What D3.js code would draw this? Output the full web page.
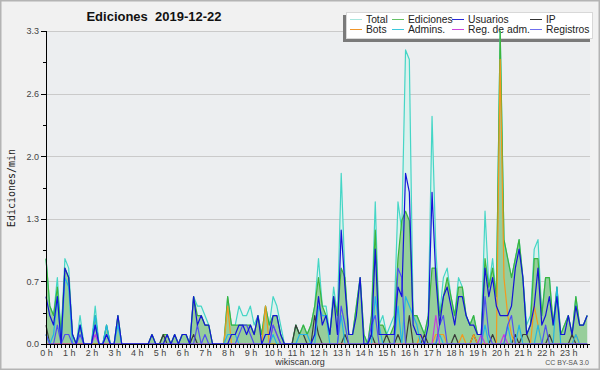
<!DOCTYPE html>
<html lang="es">

<head>
    <meta charset="UTF-8">
    <title>Ediciones 2019-12-22</title>
    <script src="https://cdnjs.cloudflare.com/ajax/libs/d3/7.8.5/d3.min.js"></script>
    <style>
        body {
            margin: 0;
            background: #f0f0f0;
        }

        svg text {
            font-family: "Liberation Sans", Arial, sans-serif;
        }

        .axis path,
        .axis line {
            stroke: #000;
            shape-rendering: crispEdges;
        }

        .axis text {
            font-size: 9px;
            fill: #444;
        }
    </style>
</head>

<body>
    <div id="chart"></div>

    <script>
        // 10 min bins, 144 per day, values in ediciones/min
        const totalVals = [
            .9, .4, .3, .7, .1, .9, .8, .1, 0, .3, 0, 0,
            0, .4, 0, 0, .2, 0, 0, .3, 0, 0, 0, 0,
            0, 0, 0, 0, .1, 0, 0, .1, .1, 0, .1, 0,
            .1, .1, 0, .5, .4, .4, .3, .2, 0, 0, 0, 0,
            .5, .2, .2, .4, .3, .3, .4, .2, .3, .1, .4, .2,
            .5, .4, .2, 0, 0, 0, .2, .1, .2, .1, .2, .4,
            .9, .4, .4, .1, .6, .3, 1.8, .7, .1, .1, .4, .7,
            .1, 0, .3, 1.5, .2, .3, .1, .2, .3, 1.5, 1.2, 3.1,
            3.0, .3, .3, .2, .1, .3, 2.4, 1.0, .3, .7, .8, .5,
            .3, .7, .6, .3, .2, .3, .1, .1, 1.4, .6, .9, .5,
            3.3, 1.1, .9, .7, .9, 1.1, .7, .2, .3, 1.0, 1.1, .3,
            .7, .7, .2, .6, .1, .2, .3, .1, .5, .2, .2, .3
        ];
        const edicionesVals = [
            .9, .4, .3, .6, .1, .8, .7, .1, 0, .2, 0, 0,
            0, .3, 0, 0, .2, 0, 0, .3, 0, 0, 0, 0,
            0, 0, 0, 0, .1, 0, 0, .1, .1, 0, .1, 0,
            .1, .1, 0, .5, .3, .3, .2, .2, 0, 0, 0, 0,
            .5, .2, .2, .2, .2, .2, .2, .1, .3, .1, .4, .2,
            .3, .3, .1, 0, 0, 0, .2, .1, .2, .1, .2, .4,
            .7, .4, .3, .1, .5, .3, .8, .7, .1, .1, .4, .7,
            .1, 0, .3, 1.2, .2, .2, .1, .1, .2, .9, 1.3, 1.4,
            1.3, .3, .3, .2, .1, .3, .8, .8, .3, .5, .7, .5,
            .3, .6, .6, .3, .2, .3, .1, .1, .9, .6, .8, .5,
            3.3, 1.1, .9, .7, .9, 1.1, .7, .1, .2, .9, .9, .3,
            .7, .7, .2, .6, .1, .2, .3, .1, .5, .2, .2, .3
        ];
        const usuariosVals = [
            .5, .3, .2, .5, 0, .8, .7, .1, 0, .2, 0, 0,
            0, .2, 0, 0, .1, 0, 0, .3, 0, 0, 0, 0,
            0, 0, 0, 0, .1, 0, 0, 0, .1, 0, .1, 0,
            .1, .1, 0, .5, .2, .3, .2, .2, 0, 0, 0, 0,
            0, .1, .1, .2, .2, .1, .2, .1, .3, 0, .1, .1,
            .3, .3, .1, 0, 0, 0, 0, 0, 0, 0, 0, .1,
            .5, .2, .3, .1, .5, .1, 1.2, .6, .1, .1, .3, .7,
            0, 0, .1, 1.0, .1, .1, .1, .1, .1, .6, .5, 1.8,
            1.6, .2, .1, .1, 0, .2, 1.6, .7, .2, .5, .6, .4,
            .2, .5, .5, .3, .2, .2, .1, .1, .8, .5, .7, .4,
            .3, .3, .3, .4, .8, 1.0, .7, .1, .2, .4, .8, .2,
            .3, .5, .2, .5, .1, .1, .3, .1, .4, .2, .2, .3
        ];
        const ipVals = [
            .2, 0, 0, 0, 0, 0, 0, 0, 0, 0, 0, 0,
            0, 0, 0, 0, 0, 0, 0, 0, 0, 0, 0, 0,
            0, 0, 0, 0, 0, 0, 0, .1, 0, 0, 0, 0,
            0, 0, 0, .1, 0, 0, 0, 0, 0, 0, 0, 0,
            0, 0, 0, 0, 0, 0, 0, 0, 0, 0, 0, 0,
            0, 0, 0, 0, 0, 0, .2, .1, .1, 0, 0, .3,
            .1, 0, 0, 0, 0, 0, 0, .1, 0, 0, 0, 0,
            0, 0, .1, 0, 0, 0, .1, 0, 0, .1, 0, 0,
            .3, 0, 0, 0, .1, 0, 0, 0, 0, 0, 0, 0,
            .1, 0, 0, 0, 0, .1, 0, 0, 0, 0, .1, 0,
            0, 0, 0, 0, .1, 0, .1, .1, 0, 0, 0, 0,
            0, .1, 0, 0, 0, 0, 0, .1, 0, 0, 0, 0
        ];
        const botsVals = [
            0, 0, 0, 0, 0, 0, 0, 0, 0, 0, 0, 0,
            0, 0, 0, 0, 0, 0, 0, 0, 0, 0, 0, 0,
            0, 0, 0, 0, 0, 0, 0, 0, 0, 0, 0, 0,
            0, 0, 0, 0, 0, 0, 0, 0, 0, 0, 0, 0,
            .4, 0, 0, 0, 0, 0, 0, 0, 0, 0, .4, 0,
            0, 0, 0, 0, 0, 0, 0, 0, 0, 0, 0, 0,
            0, 0, 0, 0, 0, 0, 0, 0, 0, 0, 0, 0,
            0, 0, 0, 0, 0, 0, 0, 0, 0, 0, 0, 0,
            0, 0, 0, .1, 0, 0, 0, .1, .1, .1, 0, 0,
            0, 0, .1, 0, 0, .1, 0, 0, 0, 0, 0, 0,
            3.0, .7, .3, .1, 0, 0, 0, 0, 0, .4, .2, 0,
            0, 0, 0, 0, 0, 0, 0, 0, .1, 0, 0, 0
        ];
        const adminsVals = [
            .1, 0, .1, .5, 0, .7, .6, 0, 0, .2, 0, 0,
            0, .3, 0, 0, .2, 0, 0, .2, 0, 0, 0, 0,
            0, 0, 0, 0, 0, 0, 0, 0, 0, 0, 0, 0,
            0, 0, 0, 0, 0, 0, 0, 0, 0, 0, 0, 0,
            .1, .1, .1, 0, 0, 0, 0, 0, 0, 0, 0, 0,
            .1, 0, 0, 0, 0, 0, 0, .1, .1, .1, 0, 0,
            .4, .3, .3, 0, 0, 0, .3, 0, 0, 0, 0, 0,
            0, 0, 0, .5, .2, 0, 0, 0, 0, .4, 0, .5,
            .4, .3, .2, 0, 0, 0, 0, 0, .1, 0, 0, 0,
            0, 0, 0, 0, 0, 0, 0, 0, .2, 0, 0, 0,
            0, 0, .2, 0, 0, .2, 0, 0, 0, 0, .2, 0,
            0, 0, 0, .6, 0, 0, 0, 0, .1, 0, 0, 0
        ];
        const regAdmVals = [
            0, 0, 0, 0, 0, 0, 0, 0, 0, 0, 0, 0,
            0, .1, 0, 0, 0, 0, 0, 0, 0, 0, 0, 0,
            0, 0, 0, 0, 0, 0, 0, 0, 0, 0, 0, 0,
            0, 0, 0, 0, 0, 0, 0, 0, 0, 0, 0, 0,
            0, 0, 0, 0, 0, 0, 0, 0, 0, 0, 0, 0,
            .2, .1, 0, 0, 0, 0, 0, 0, 0, 0, 0, 0,
            0, 0, 0, 0, 0, 0, 0, 0, 0, 0, 0, 0,
            0, 0, 0, 0, 0, 0, 0, 0, 0, 0, 0, 0,
            0, 0, 0, 0, 0, 0, 0, .3, 0, 0, 0, 0,
            0, 0, 0, 0, 0, 0, 0, .1, 0, 0, 0, 0,
            0, .1, 0, 0, 0, 0, 0, 0, 0, 0, 0, 0,
            0, 0, 0, 0, 0, 0, 0, 0, 0, 0, 0, 0
        ];
        const registrosVals = [
            .1, 0, 0, .2, 0, .1, .1, 0, 0, .1, 0, 0,
            0, .2, 0, 0, .1, 0, 0, 0, 0, 0, 0, 0,
            0, 0, 0, 0, 0, 0, 0, 0, 0, 0, 0, 0,
            0, 0, 0, 0, .2, 0, .1, 0, 0, 0, 0, 0,
            0, 0, 0, .1, .2, .2, .1, 0, 0, 0, 0, 0,
            .2, .1, 0, 0, 0, 0, 0, 0, 0, 0, 0, 0,
            0, 0, 0, 0, 0, 0, .4, .2, 0, 0, 0, 0,
            0, 0, .2, .3, 0, 0, 0, 0, 0, .8, .7, 0,
            0, 0, 0, 0, 0, 0, 0, 0, .2, .3, 0, 0,
            0, 0, 0, 0, 0, 0, 0, 0, .5, .1, 0, 0,
            0, 0, .2, .3, 0, 0, 0, 0, 0, 0, 0, 0,
            .2, 0, 0, 0, 0, 0, 0, 0, 0, 0, 0, 0
        ];

        const yTickVals = [0, 0.66, 1.32, 1.98, 2.64, 3.3];
        const yTickLabels = ["0.0", "0.7", "1.3", "2.0", "2.6", "3.3"];
        const hourLabels = d3.range(24).map(h => h + " h");

        // legend order: row by row
        const legendItems = [
            { name: "Total", color: "#a8e6de" },
            { name: "Ediciones", color: "#66c266" },
            { name: "Usuarios", color: "#2a2ad8" },
            { name: "IP", color: "#333333" },
            { name: "Bots", color: "#f0962a" },
            { name: "Admins.", color: "#3cc8dc" },
            { name: "Reg. de adm.", color: "#cc44dd" },
            { name: "Registros", color: "#6f6fee" }
        ];

        const width = 600, height = 370;
        const plotL = 46, plotR = 591, plotT = 31, plotB = 344;

        const svg = d3.select("#chart").append("svg")
            .attr("width", width)
            .attr("height", height);

        // fond + cadre
        svg.append("rect")
            .attr("x", 0.5).attr("y", 0.5)
            .attr("width", width - 1).attr("height", height - 1)
            .attr("fill", "#f1f1f1")
            .attr("stroke", "#b4b4b4")
            .attr("stroke-width", 2);

        svg.append("rect")
            .attr("x", plotL).attr("y", plotT)
            .attr("width", plotR - 1 - plotL).attr("height", plotB - plotT)
            .attr("fill", "#eceef0");

        const x = d3.scaleLinear().domain([0, 144]).range([plotL, plotR]);
        const y = d3.scaleLinear().domain([0, 3.3]).range([plotB, plotT]);

        // grid
        svg.append("g")
            .selectAll("line")
            .data(yTickVals.slice(1))
            .enter().append("line")
            .attr("x1", plotL).attr("x2", plotR - 1)
            .attr("y1", d => Math.round(y(d)) + 0.5)
            .attr("y2", d => Math.round(y(d)) + 0.5)
            .attr("stroke", "#cacaca");

        // title
        svg.append("text")
            .attr("x", 154).attr("y", 21)
            .attr("text-anchor", "middle")
            .attr("font-weight", "bold")
            .attr("font-size", "13px")
            .attr("fill", "#111")
            .attr("xml:space", "preserve")
            .text("Ediciones  2019-12-22");

        // legend (drawn under the data)
        const lg = svg.append("g");
        lg.append("rect")
            .attr("x", 343).attr("y", 15).attr("width", 247).attr("height", 27)
            .attr("fill", "#7a7a7a");
        lg.append("rect")
            .attr("x", 346.5).attr("y", 12.5).attr("width", 246).attr("height", 26)
            .attr("fill", "#fff")
            .attr("stroke", "#d8d8d8");
        const colX = [350, 392, 452, 530];
        legendItems.forEach((d, i) => {
            const cx = colX[i % 4], cy = i < 4 ? 19 : 29;
            lg.append("line")
                .attr("x1", cx).attr("x2", cx + 12)
                .attr("y1", cy + 0.5).attr("y2", cy + 0.5)
                .attr("stroke", d.color);
            lg.append("text")
                .attr("x", cx + 16).attr("y", cy + 3.5)
                .attr("font-size", "10.3px")
                .attr("fill", "#222")
                .text(d.name);
        });

        // data
        const idx = d3.range(144);
        const area = vals => d3.area()
            .x(i => x(i))
            .y0(y(0))
            .y1(i => y(vals[i]))(idx);
        const line = vals => d3.line()
            .x(i => x(i))
            .y(i => y(vals[i]))(idx);

        svg.append("path").attr("d", area(totalVals))
            .attr("fill", "#d9f1ec").attr("fill-opacity", 0.9);
        svg.append("path").attr("d", area(edicionesVals))
            .attr("fill", "#7cc07c").attr("fill-opacity", 0.72);

        const lines = [
            [totalVals, "#45d6c6"],
            [edicionesVals, "#3cb43c"],
            [ipVals, "#3a3a3a"],
            [botsVals, "#f39a1e"],
            [adminsVals, "#22b4e6"],
            [regAdmVals, "#c83cdc"],
            [registrosVals, "#5050f0"],
            [usuariosVals, "#1414d8"]
        ];
        lines.forEach(([vals, c]) => {
            svg.append("path").attr("d", line(vals))
                .attr("fill", "none")
                .attr("stroke", c)
                .attr("stroke-width", 1.2)
                .attr("stroke-linejoin", "round");
        });

        // axes
        const yAxis = svg.append("g")
            .attr("class", "axis")
            .attr("transform", `translate(${plotL},0)`)
            .call(d3.axisLeft(y).tickValues(yTickVals).tickSize(5).tickPadding(2)
                .tickFormat((d, i) => yTickLabels[i]));
        yAxis.select(".domain").remove();
        svg.append("g")
            .attr("class", "axis")
            .attr("transform", `translate(${plotL},0)`)
            .call(d3.axisLeft(y).tickValues(d3.range(5).map(k => 0.33 + k * 0.66)).tickSize(3).tickFormat(""))
            .select(".domain").remove();
        svg.append("line")
            .attr("x1", plotL + 0.5).attr("x2", plotL + 0.5)
            .attr("y1", plotT).attr("y2", plotB)
            .attr("stroke", "#000");

        const xAxis = svg.append("g")
            .attr("class", "axis")
            .attr("transform", `translate(0,${plotB})`)
            .call(d3.axisBottom(x).tickValues(d3.range(0, 144)).tickSize(4).tickFormat(""));
        xAxis.select(".domain").remove();
        svg.append("g")
            .attr("class", "axis")
            .attr("transform", `translate(0,${plotB})`)
            .call(d3.axisBottom(x).tickValues(d3.range(0, 144, 6)).tickSize(4).tickPadding(2)
                .tickFormat((d, i) => hourLabels[i]))
            .select(".domain").remove();
        svg.append("line")
            .attr("x1", plotL).attr("x2", plotR - 1)
            .attr("y1", plotB + 0.5).attr("y2", plotB + 0.5)
            .attr("stroke", "#000");

        // y label
        svg.append("text")
            .attr("transform", "translate(15,188) rotate(-90)")
            .attr("text-anchor", "middle")
            .style("font-family", "'DejaVu Sans Mono', monospace")
            .attr("font-size", "10px")
            .attr("fill", "#222")
            .text("Ediciones/min");

        // footer
        svg.append("text")
            .attr("x", 300).attr("y", 365)
            .attr("text-anchor", "middle")
            .attr("font-size", "9px")
            .attr("fill", "#333")
            .text("wikiscan.org");
        svg.append("text")
            .attr("x", 589).attr("y", 365)
            .attr("text-anchor", "end")
            .attr("font-size", "7px")
            .attr("fill", "#555")
            .text("CC BY-SA 3.0");
    </script>
</body>

</html>
